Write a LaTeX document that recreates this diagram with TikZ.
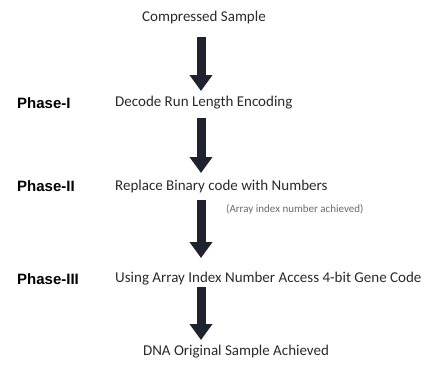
\documentclass[tikz,border=0pt]{standalone}
\usepackage{fontspec}
\setmainfont{Carlito}
\newfontfamily\labelfont{Liberation Sans}
\usetikzlibrary{arrows.meta}
\definecolor{arrowink}{HTML}{1F2330}
\definecolor{textink}{HTML}{2A2A2A}
\definecolor{noteink}{HTML}{6A6A6A}
\tikzset{
  steptext/.style={font=\fontsize{15}{17}\selectfont, text=textink, inner sep=0pt, anchor=west},
  titletext/.style={font=\fontsize{15}{17}\selectfont, text=textink, inner sep=0pt},
  phaselabel/.style={font=\labelfont\bfseries\fontsize{15}{17}\selectfont, text=black, inner sep=0pt, anchor=west},
  notetext/.style={font=\fontsize{11}{13}\selectfont, text=noteink, inner sep=0pt, anchor=west},
  bigarrow/.style={draw=arrowink, line width=9pt, -{Triangle[width=22pt,length=16pt]}, fill=arrowink}
}
\begin{document}
\begin{tikzpicture}[x=1pt,y=-1pt]
  \useasboundingbox (0,0) rectangle (422,364);

  % texts of the flow
  \node[titletext] (start) at (204,18) {Compressed Sample};
  \node[phaselabel] (ph1) at (17,103) {Phase-I};
  \node[steptext] (s1) at (115,103) {Decode Run Length Encoding};
  \node[phaselabel] (ph2) at (17,186) {Phase-II};
  \node[steptext] (s2) at (115,186) {Replace Binary code with Numbers};
  \node[notetext] (note) at (226,209) {(Array index number achieved)};
  \node[phaselabel] (ph3) at (17,279) {Phase-III};
  \node[steptext] (s3) at (115,279) {Using Array Index Number Access 4-bit Gene Code};
  \node[titletext] (finish) at (236,352) {DNA Original Sample Achieved};

  % arrow end points
  \coordinate (a1s) at (201,37);  \coordinate (a1e) at (201,91);
  \coordinate (a2s) at (201,118); \coordinate (a2e) at (201,173);
  \coordinate (a3s) at (201,200); \coordinate (a3e) at (201,258);
  \coordinate (a4s) at (201,287); \coordinate (a4e) at (201,340);

  \draw[bigarrow] (a1s) -- (a1e);
  \draw[bigarrow] (a2s) -- (a2e);
  \draw[bigarrow] (a3s) -- (a3e);
  \draw[bigarrow] (a4s) -- (a4e);
\end{tikzpicture}
\end{document}
